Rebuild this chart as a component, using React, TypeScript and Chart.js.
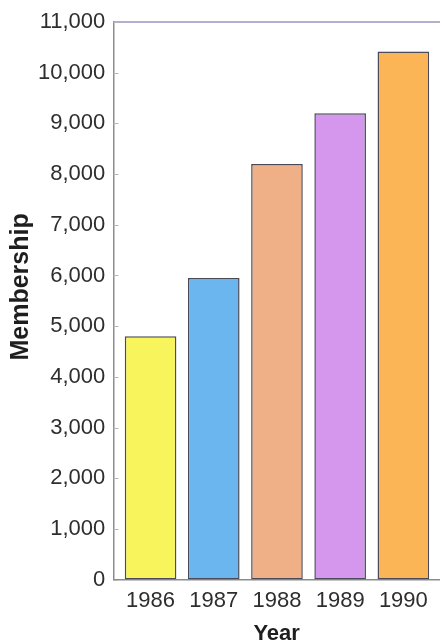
import React, { useEffect, useRef } from "react";
import { Chart, registerables } from "chart.js";

Chart.register(...registerables);

const years = [1986, 1987, 1988, 1989, 1990];
const membership = [4800, 5950, 8200, 9200, 10420];
const barColors = ["#f8f45c", "#6cb6ef", "#efb087", "#d597ee", "#fbb456"];
const yTickValues = [0, 1000, 2000, 3000, 4000, 5000, 6000, 7000, 8000, 9000, 10000, 11000];
const xAxisTitle = "Year";
const yAxisTitle = "    Membership";

const FONT = "'Liberation Sans', Arial, Helvetica, sans-serif";

const framePlugin = {
  id: "frame",
  afterDraw(chart: any) {
    const { ctx, chartArea, scales } = chart;
    const ys = scales.y;
    ctx.save();
    ctx.strokeStyle = "#9c95bf";
    ctx.lineWidth = 1.5;
    ctx.beginPath();
    ctx.moveTo(chartArea.left, chartArea.top);
    ctx.lineTo(chartArea.right, chartArea.top);
    ctx.stroke();
    ctx.strokeStyle = "#b5b5b5";
    ctx.lineWidth = 1;
    ys.ticks.forEach((t: any) => {
      const py = Math.round(ys.getPixelForValue(t.value)) + 0.5;
      ctx.beginPath();
      ctx.moveTo(chartArea.left, py);
      ctx.lineTo(chartArea.left + 5, py);
      ctx.stroke();
    });
    ctx.restore();
  },
};

export default function App() {
  const canvasRef = useRef<HTMLCanvasElement | null>(null);

  useEffect(() => {
    if (!canvasRef.current) return;
    const chart = new Chart(canvasRef.current, {
      type: "bar",
      data: {
        datasets: [
          {
            label: "Membership",
            data: years.map((yr, i) => ({ x: yr, y: membership[i] })),
            backgroundColor: barColors,
            borderColor: "#4a4a58",
            borderWidth: 1.5,
            borderSkipped: false,
            categoryPercentage: 1,
            barPercentage: 0.817,
          },
        ],
      },
      plugins: [framePlugin],
      options: {
        animation: false,
        responsive: true,
        maintainAspectRatio: false,
        layout: { padding: { top: 22, left: 0, right: 0, bottom: 0 } },
        plugins: {
          legend: { display: false },
          tooltip: { enabled: false },
          title: { display: false },
        },
        scales: {
          x: {
            type: "linear",
            offset: false,
            min: 1985.41,
            max: 1990.58,
            afterBuildTicks: (scale: any) => {
              scale.ticks = years.map((v) => ({ value: v }));
            },
            ticks: {
              autoSkip: false,
              maxRotation: 0,
              padding: 8,
              color: "#2e2e2e",
              font: { family: FONT, size: 22 },
              callback: (v: any) => String(v),
            },
            grid: { display: false, drawTicks: false },
            border: { display: true, color: "#8c8c8c", width: 1.5 },
            title: {
              display: true,
              text: xAxisTitle,
              color: "#1e1e1e",
              font: { family: FONT, size: 22, weight: "bold", lineHeight: 1 },
              padding: { top: 1, bottom: -3 },
            },
          },
          y: {
            type: "linear",
            min: 0,
            max: 11000,
            afterBuildTicks: (scale: any) => {
              scale.ticks = yTickValues.map((v) => ({ value: v }));
            },
            ticks: {
              padding: 8,
              color: "#2e2e2e",
              font: { family: FONT, size: 22 },
              callback: (v: any) => Number(v).toLocaleString("en-US"),
            },
            grid: { display: false, drawTicks: false },
            border: { display: true, color: "#8c8c8c", width: 1.5 },
            title: {
              display: true,
              text: yAxisTitle,
              color: "#1e1e1e",
              font: { family: FONT, size: 25, weight: "bold", lineHeight: 1 },
              padding: { top: 9, bottom: -4 },
            },
          },
        },
      },
    });
    return () => chart.destroy();
  }, []);

  return (
    <div style={{ position: "absolute", left: 0, top: 0, width: 440, height: 642, background: "#ffffff" }}>
      <canvas ref={canvasRef} />
    </div>
  );
}
